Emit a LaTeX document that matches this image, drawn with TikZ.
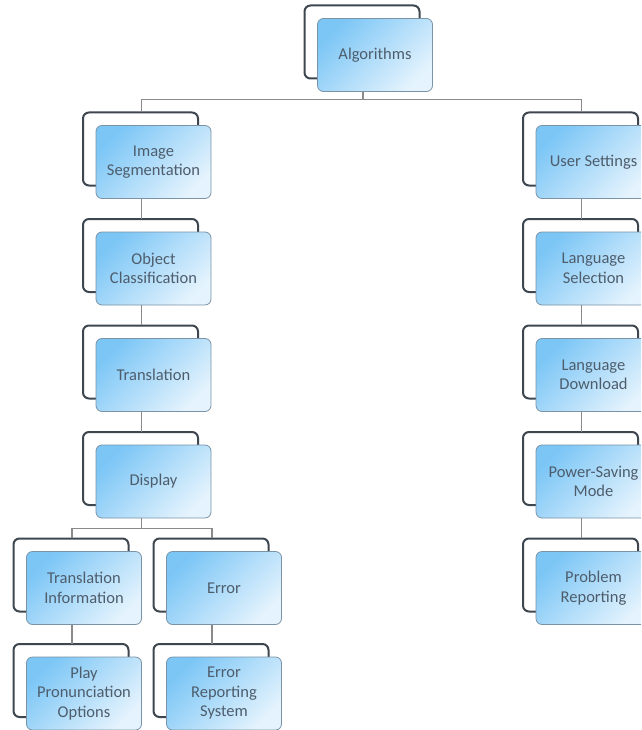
\documentclass[tikz,border=0pt]{standalone}
\usepackage{fontspec}
\setmainfont{Carlito}
\usetikzlibrary{shadows}
\definecolor{boxtop}{HTML}{7CC6F6}
\definecolor{boxbot}{HTML}{E4F3FD}
\definecolor{boxline}{HTML}{7A93A6}
\definecolor{backline}{HTML}{3E4750}
\definecolor{txt}{HTML}{4E5D6C}
\definecolor{conn}{HTML}{8A8A8A}
\begin{document}
\begin{tikzpicture}[x=1pt,y=-1pt,
  card/.style={rectangle, rounded corners=6pt, minimum width=115pt, minimum height=73pt,
    inner sep=2pt, align=center, draw=boxline, line width=0.8pt,
    top color=boxtop, bottom color=boxbot, shading angle=45, text=txt,
    font=\fontsize{16.5}{19.5}\selectfont,
    copy shadow={shadow xshift=-13pt, shadow yshift=13pt, fill=white, draw=backline, line width=2pt}},
  link/.style={draw=conn, line width=1.2pt}]
\useasboundingbox (0,0) rectangle (641,730);
\clip (0,0) rectangle (641,730);
\fill[white] (0,0) rectangle (641,730);

\node[card] (alg) at (375,55) {Algorithms};
\node[card] (img) at (153.5,162) {Image\\Segmentation};
\node[card] (obj) at (153.5,268.5) {Object\\Classification};
\node[card] (tra) at (153.5,375) {Translation};
\node[card] (dis) at (153.5,481.5) {Display};
\node[card] (tin) at (84,588) {Translation\\Information};
\node[card] (err) at (224,588) {Error};
\node[card] (pla) at (84,693.5) {Play\\Pronunciation\\Options};
\node[card] (ers) at (224,693.5) {Error\\Reporting\\System};
\node[card] (us) at (593.5,162) {User Settings};
\node[card] (lsel) at (593.5,268.5) {Language\\Selection};
\node[card] (ldl) at (593.5,375) {Language\\Download};
\node[card] (psm) at (593.5,481.5) {Power-Saving\\Mode};
\node[card] (prb) at (593.5,588) {Problem\\Reporting};

\draw[link] ([xshift=-12pt]alg.south) -- ++(0,8) coordinate (busA);
\draw[link] ([xshift=-12pt,yshift=13pt]img.north) |- (busA) -| ([xshift=-12pt,yshift=13pt]us.north);
\draw[link] ([xshift=-12pt]img.south) -- ([xshift=-12pt,yshift=13pt]obj.north);
\draw[link] ([xshift=-12pt]obj.south) -- ([xshift=-12pt,yshift=13pt]tra.north);
\draw[link] ([xshift=-12pt]tra.south) -- ([xshift=-12pt,yshift=13pt]dis.north);
\draw[link] ([xshift=-12pt]dis.south) -- ++(0,10) coordinate (busD);
\draw[link] ([xshift=-12pt,yshift=13pt]tin.north) |- (busD) -| ([xshift=-12pt,yshift=13pt]err.north);
\draw[link] ([xshift=-12pt]tin.south) -- ([xshift=-12pt,yshift=13pt]pla.north);
\draw[link] ([xshift=-12pt]err.south) -- ([xshift=-12pt,yshift=13pt]ers.north);
\draw[link] ([xshift=-12pt]us.south) -- ([xshift=-12pt,yshift=13pt]lsel.north);
\draw[link] ([xshift=-12pt]lsel.south) -- ([xshift=-12pt,yshift=13pt]ldl.north);
\draw[link] ([xshift=-12pt]ldl.south) -- ([xshift=-12pt,yshift=13pt]psm.north);
\draw[link] ([xshift=-12pt]psm.south) -- ([xshift=-12pt,yshift=13pt]prb.north);
\end{tikzpicture}
\end{document}
